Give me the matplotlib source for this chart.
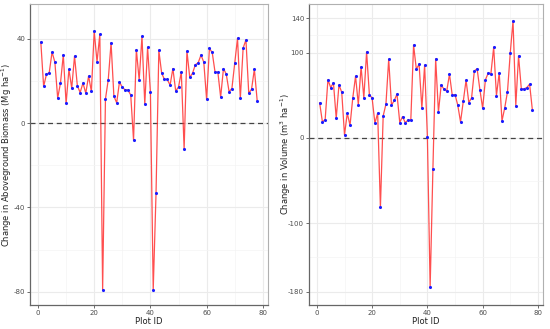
import numpy as np
import matplotlib.pyplot as plt
from matplotlib.ticker import FixedLocator

plt.rcParams['axes.unicode_minus'] = False

plot_id = list(range(1, 79))

# change in aboveground biomass (Mg ha-1)
agb_change = [38.4, 17.4, 23.1, 24.0, 33.7, 28.9, 11.9, 19.0, 32.4, 9.3,
              25.5, 16.6, 31.8, 17.7, 14.5, 19.0, 14.2, 22.3, 15.0, 43.6,
              29.1, 42.1, -79.1, 11.4, 20.6, 38.1, 12.8, 9.6, 19.6, 16.9,
              15.8, 15.7, 13.3, -8.1, 34.9, 20.4, 41.1, 9.0, 36.0, 14.7,
              -79.1, -33.4, 34.5, 23.7, 20.7, 20.7, 18.0, 25.9, 15.2, 17.1,
              24.2, -12.3, 34.1, 21.7, 23.7, 27.7, 28.6, 32.3, 28.9, 11.2,
              35.4, 33.5, 24.2, 24.2, 12.3, 25.9, 23.2, 14.9, 16.4, 28.3,
              40.3, 11.7, 35.6, 39.5, 14.1, 16.1, 25.6, 10.6]

# change in volume (m3 ha-1)
vol_change = [41.0, 18.7, 21.5, 68.0, 59.0, 64.5, 23.0, 62.1, 53.5, 3.5,
              28.9, 14.8, 46.9, 72.3, 39.1, 83.2, 46.9, 100.8, 50.8, 46.5,
              17.2, 28.9, -81.5, 25.8, 39.5, 92.2, 38.3, 43.8, 51.2, 18.0,
              25.0, 17.6, 21.1, 20.7, 108.8, 80.5, 86.3, 34.8, 85.2, 1.6,
              -175.0, -36.4, 92.6, 30.1, 62.1, 57.0, 54.7, 74.6, 50.0, 50.8,
              38.3, 18.7, 43.0, 67.6, 41.4, 46.9, 78.5, 80.9, 56.6, 34.8,
              68.0, 75.8, 75.4, 106.2, 49.6, 76.2, 19.9, 35.2, 54.3, 99.6,
              137.1, 37.9, 96.1, 57.4, 57.4, 59.0, 62.9, 32.8]

agb_ticks = [40, 0, -40, -80]
agb_minor = [20, -20, -60]
vol_ticks = [140, 100, 0, -100, -180]
vol_minor = [120, 50, -50, -140]
x_ticks = [0, 20, 40, 60, 80]
x_minor = [10, 30, 50, 70]

W, H = 550, 329
fig = plt.figure(figsize=(W / 100, H / 100), dpi=100)


def panel(rect, y, ylim, yticks, yminor, ylabel):
    l, t, r, b = rect
    ax = fig.add_axes([l / W, 1 - b / H, (r - l) / W, (b - t) / H])
    ax.set_xlim(-2.85, 81.85)
    ax.set_ylim(*ylim)
    ax.xaxis.set_major_locator(FixedLocator(x_ticks))
    ax.xaxis.set_minor_locator(FixedLocator(x_minor))
    ax.yaxis.set_major_locator(FixedLocator(yticks))
    ax.yaxis.set_minor_locator(FixedLocator(yminor))
    ax.grid(which='major', color='#ebebeb', linewidth=0.8)
    ax.grid(which='minor', color='#f4f4f4', linewidth=0.5)
    ax.set_axisbelow(True)
    ax.tick_params(which='minor', length=0)
    ax.tick_params(which='major', length=2, width=0.6, color='#555555',
                   labelsize=5, labelcolor='#4d4d4d', pad=1.5)
    for side in ['top', 'right']:
        ax.spines[side].set_color('#b0b0b0')
        ax.spines[side].set_linewidth(0.8)
    for side in ['left', 'bottom']:
        ax.spines[side].set_color('#666666')
        ax.spines[side].set_linewidth(0.9)
    ax.axhline(0, color='#444444', linestyle=(0, (4, 3)), linewidth=0.9, zorder=1)
    ax.plot(plot_id, y, color='#ff3030', linewidth=0.9, alpha=0.85, zorder=2)
    ax.scatter(plot_id, y, s=5, color='#1a1aff', zorder=3, linewidths=0)
    ax.set_xlabel('Plot ID', fontsize=6, labelpad=1, color='#222222')
    ax.set_ylabel(ylabel, fontsize=6, color='#222222')
    ax.yaxis.set_label_coords(-16 / (r - l), 0.5)
    return ax


panel((30, 4, 268, 305), agb_change, (-86.3, 56.5), agb_ticks, agb_minor,
      'Change in Aboveground Biomass (Mg ha$^{-1}$)')
panel((309, 4, 543, 305), vol_change, (-195.7, 156.8), vol_ticks, vol_minor,
      'Change in Volume (m$^{3}$ ha$^{-1}$)')

fig.savefig('out.png', dpi=100)
